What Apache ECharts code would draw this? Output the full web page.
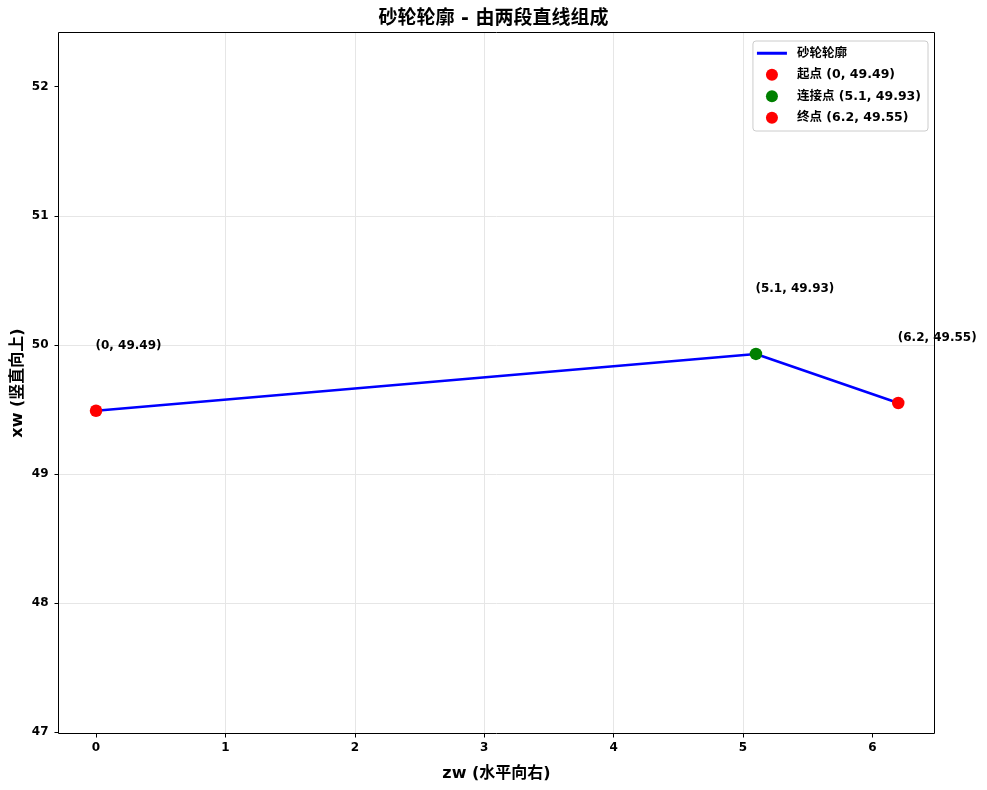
<!DOCTYPE html>
<html>
<head>
<meta charset="utf-8">
<script src="https://cdn.jsdelivr.net/npm/echarts@6/dist/echarts.min.js"></script>
<style>html,body{margin:0;padding:0;background:#fff}#c{width:987px;height:790px}</style>
</head>
<body>
<div id="c"></div>
<script>
// ---- data ----
const titleText = '砂轮轮廓 - 由两段直线组成';
const xAxisName = 'zw (水平向右)';
const yAxisName = 'xw (竖直向上)';
const lineName = '砂轮轮廓';
const zw = [0, 5.1, 6.2];
const xw = [49.49, 49.93, 49.55];
const pointNames = ['起点', '连接点', '终点'];
const pointColors = ['#ff0000', '#008000', '#ff0000'];
const labelDy = 0.5; // annotation placed 0.5 above each point
const xTicks = [0, 1, 2, 3, 4, 5, 6];
const yTicks = [47, 48, 49, 50, 51, 52];
const xRange = [-0.29, 6.48];
const yRange = [46.99, 52.42];

const FONT = '"DejaVu Sans", "Noto Sans CJK SC", sans-serif';
const fmt = (i) => `(${zw[i]}, ${xw[i]})`;

const series = [{
  name: lineName,
  type: 'line',
  data: zw.map((z, i) => [z, xw[i]]),
  symbol: 'none',
  lineStyle: { color: '#0000ff', width: 2.6 },
  itemStyle: { color: '#0000ff' },
  z: 2
}];
zw.forEach((z, i) => {
  series.push({
    name: `${pointNames[i]} ${fmt(i)}`,
    type: 'scatter',
    data: [[z, xw[i]]],
    symbol: 'circle',
    symbolSize: 12.5,
    itemStyle: { color: pointColors[i], opacity: 1 },
    z: 3
  });
});
series.push({
  name: '__labels',
  type: 'scatter',
  silent: true,
  symbolSize: 1,
  clip: false,
  itemStyle: { opacity: 0 },
  data: zw.map((z, i) => [z, xw[i] + labelDy]),
  label: {
    show: true,
    position: [0, 0],
    align: 'left',
    verticalAlign: 'middle',
    offset: [0, -6],
    color: '#000000',
    opacity: 1,
    textBorderWidth: 0,
    fontFamily: FONT,
    fontWeight: 'bold',
    fontSize: 12,
    formatter: (p) => fmt(p.dataIndex)
  },
  labelLayout: { hideOverlap: false },
  z: 4
});

const lineIcon = 'path://M0,0 L30,0 L30,3 L0,3 Z';
const axisFont = { fontFamily: FONT, fontWeight: 'bold', fontSize: 12, color: '#000' };

const chart = echarts.init(document.getElementById('c'), null, { renderer: 'canvas' });
chart.setOption({
  backgroundColor: '#fff',
  animation: false,
  title: {
    text: titleText,
    left: 'center',
    top: 10,
    padding: 0,
    textStyle: { fontFamily: FONT, fontWeight: 'bold', fontSize: 19, color: '#000' }
  },
  legend: {
    data: [{ name: lineName, icon: lineIcon }].concat(series.slice(1, 4).map(s => ({ name: s.name, icon: 'circle' }))),
    orient: 'vertical',
    right: 59,
    top: 41,
    padding: [6, 7, 7, 4],
    itemGap: 9,
    itemWidth: 30,
    itemHeight: 12,
    backgroundColor: 'rgba(255,255,255,0.85)',
    borderColor: '#cccccc',
    borderWidth: 1,
    borderRadius: 3,
    textStyle: { fontFamily: FONT, fontWeight: 'bold', fontSize: 12.5, color: '#000', padding: [0, 0, 0, 5] }
  },
  grid: {
    left: 58.5, right: 52.5, top: 32.5, bottom: 56.5,
    containLabel: false,
    outerBoundsMode: 'none',
    show: true, borderColor: '#000', borderWidth: 1, backgroundColor: 'transparent', z: 10
  },
  xAxis: {
    type: 'value',
    min: xRange[0], max: xRange[1],
    splitNumber: 6,
    name: xAxisName,
    nameLocation: 'middle',
    nameGap: 32,
    nameTextStyle: { fontFamily: FONT, fontWeight: 'bold', fontSize: 16, color: '#000' },
    axisLine: { show: false, onZero: false },
    axisTick: { show: true, inside: false, length: 4, customValues: xTicks, lineStyle: { color: '#000' } },
    axisLabel: Object.assign({ margin: 8, customValues: xTicks, formatter: v => String(v) }, axisFont),
    splitLine: { show: true, showMinLine: false, showMaxLine: false, lineStyle: { color: '#e6e6e6', width: 1 } }
  },
  yAxis: {
    type: 'value',
    min: yRange[0], max: yRange[1],
    splitNumber: 5,
    name: yAxisName,
    nameLocation: 'middle',
    nameGap: 33,
    nameMoveOverlap: false,
    nameRotate: 90,
    nameTextStyle: { fontFamily: FONT, fontWeight: 'bold', fontSize: 16, color: '#000' },
    axisLine: { show: false, onZero: false },
    axisTick: { show: true, inside: false, length: 4, customValues: yTicks, lineStyle: { color: '#000' } },
    axisLabel: Object.assign({ margin: 10, customValues: yTicks, formatter: v => String(v) }, axisFont),
    splitLine: { show: true, showMinLine: false, showMaxLine: false, lineStyle: { color: '#e6e6e6', width: 1 } }
  },
  series: series
});
</script>
</body>
</html>
